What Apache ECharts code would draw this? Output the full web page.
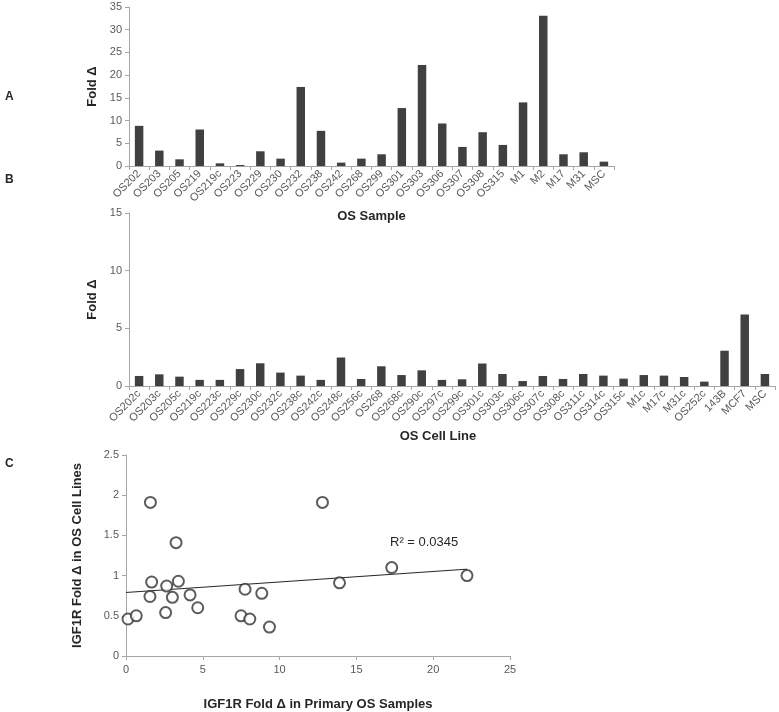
<!DOCTYPE html>
<html>
<head>
<meta charset="utf-8">
<script src="https://cdn.jsdelivr.net/npm/echarts@6/dist/echarts.min.js"></script>
<style>
html,body{margin:0;padding:0;background:#fff;}
#c{width:779px;height:712px;}
</style>
</head>
<body>
<div id="c"></div>
<script>
// Panel A: primary OS samples
var samplesA = ['OS202','OS203','OS205','OS219','OS219c','OS223','OS229','OS230','OS232','OS238','OS242','OS268','OS299','OS301','OS303','OS306','OS307','OS308','OS315','M1','M2','M17','M31','MSC'];
var valuesA = [8.84,3.39,1.47,8.03,0.59,0.22,3.24,1.62,17.4,7.74,0.74,1.62,2.58,12.75,22.25,9.36,4.2,7.44,4.64,14.0,33.1,2.58,3.02,0.96];

// Panel B: OS cell lines
var samplesB = ['OS202c','OS203c','OS205c','OS219c','OS223c','OS229c','OS230c','OS232c','OS238c','OS242c','OS248c','OS256c','OS268','OS268c','OS290c','OS297c','OS299c','OS301c','OS303c','OS306c','OS307c','OS308c','OS311c','OS314c','OS315c','M1c','M17c','M31c','OS252c','143B','MCF7','MSC'];
var valuesB = [0.87,1.01,0.81,0.53,0.53,1.47,1.97,1.16,0.9,0.53,2.47,0.61,1.71,0.95,1.36,0.53,0.58,1.95,1.04,0.43,0.87,0.61,1.04,0.9,0.64,0.95,0.9,0.78,0.38,3.06,6.2,1.04];

// Panel C: primary (x) vs cell line (y)
var scatterX = [0.13,0.67,1.59,1.56,1.67,2.58,2.65,3.02,3.26,3.41,4.17,4.67,7.49,7.75,8.06,8.84,9.34,12.79,13.9,17.3,22.2];
var scatterY = [0.46,0.50,1.91,0.74,0.92,0.54,0.87,0.73,1.41,0.93,0.76,0.60,0.50,0.83,0.46,0.78,0.36,1.91,0.91,1.10,1.00];
var trendX = [0, 22.2];
var trendY = [0.79, 1.08];

var scatterData = scatterX.map(function(x,i){return [x, scatterY[i]];});
var trendData = trendX.map(function(x,i){return [x, trendY[i]];});

var axisGray = '#a6a6a6';
var labelGray = '#595959';
var barColor = '#404040';
var fontFam = '"Liberation Sans", Arial, sans-serif';

function catAxis(idx, data, name, gap, pad){
  return {
    type:'category', gridIndex: idx, data: data,
    axisLine:{show:true, lineStyle:{color:axisGray, width:1}},
    axisTick:{show:true, alignWithLabel:false, length:4, lineStyle:{color:axisGray}},
    axisLabel:{rotate:45, interval:0, color:labelGray, fontSize:11, fontFamily:fontFam, margin:6},
    name: name, nameLocation:'middle', nameGap: gap,
    nameTextStyle:{fontWeight:'bold', fontSize:13, color:'#262626', fontFamily:fontFam, padding: pad || 0}
  };
}
function valAxis(idx, max, interval, name, gap){
  return {
    type:'value', gridIndex: idx, min:0, max:max, interval:interval,
    axisLine:{show:true, lineStyle:{color:axisGray, width:1}},
    axisTick:{show:true, length:4, lineStyle:{color:axisGray}},
    splitLine:{show:false},
    axisLabel:{color:labelGray, fontSize:11, fontFamily:fontFam, margin:7},
    name: name, nameLocation:'middle', nameGap: gap, nameRotate:90,
    nameTextStyle:{fontWeight:'bold', fontSize:13, color:'#262626', fontFamily:fontFam}
  };
}

var chart = echarts.init(document.getElementById('c'), null, {renderer:'canvas'});
chart.setOption({
  animation:false,
  backgroundColor:'#ffffff',
  grid:[
    {left:129, top:7, width:485, height:159},
    {left:129, top:213, width:646, height:173},
    {left:126, top:455, width:384, height:205}
  ],
  xAxis:[
    catAxis(0, samplesA, 'OS Sample', 44),
    catAxis(1, samplesB, 'OS Cell Line', 44, [0,28,0,0]),
    {
      type:'value', gridIndex:2, min:0, max:25, interval:5,
      axisLine:{show:true, lineStyle:{color:axisGray}},
      axisTick:{show:true, length:4, lineStyle:{color:axisGray}},
      splitLine:{show:false},
      axisLabel:{color:labelGray, fontSize:11, fontFamily:fontFam, margin:8},
      name:'IGF1R Fold Δ in Primary OS Samples', nameLocation:'middle', nameGap:42,
      nameTextStyle:{fontWeight:'bold', fontSize:13, color:'#262626', fontFamily:fontFam}
    }
  ],
  yAxis:[
    valAxis(0, 35, 5, 'Fold Δ', 30),
    valAxis(1, 15, 5, 'Fold Δ', 24),
    valAxis(2, 2.5, 0.5, 'IGF1R Fold Δ in OS Cell Lines', 42)
  ],
  series:[
    {type:'bar', xAxisIndex:0, yAxisIndex:0, data:valuesA, barWidth:'42%', itemStyle:{color:barColor}},
    {type:'bar', xAxisIndex:1, yAxisIndex:1, data:valuesB, barWidth:'42%', itemStyle:{color:barColor}},
    {type:'line', xAxisIndex:2, yAxisIndex:2, data:trendData, symbol:'none', lineStyle:{color:'#262626', width:1}, z:1},
    {type:'scatter', xAxisIndex:2, yAxisIndex:2, data:scatterData, symbol:'circle', symbolSize:11,
     itemStyle:{color:'#ffffff', borderColor:'#333333', borderWidth:2}, z:3}
  ],
  graphic:[
    {type:'text', left:5, top:91, style:{text:'A', font:'bold 12px "Liberation Sans", Arial', fill:'#262626'}},
    {type:'text', left:5, top:174, style:{text:'B', font:'bold 12px "Liberation Sans", Arial', fill:'#262626'}},
    {type:'text', left:5, top:458, style:{text:'C', font:'bold 12px "Liberation Sans", Arial', fill:'#262626'}},
    {type:'text', left:390, top:536, style:{text:'R² = 0.0345', font:'13px "Liberation Sans", Arial', fill:'#262626'}}
  ]
});
</script>
</body>
</html>
